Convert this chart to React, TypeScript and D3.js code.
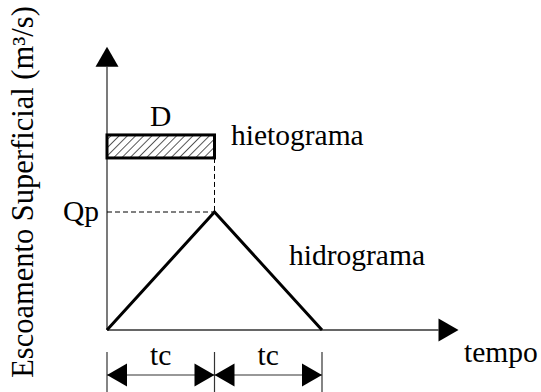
import React from "react";
import * as d3 from "d3";

const hydroTime = [0, 1, 2];
const hydroFlow = [0, 1, 0];
const rainInterval = [0, 1];
const rainLevels = [1.458, 1.653];
const dimTicks = [0, 1, 2];
const dimLabels = ["tc", "tc"];
const axisMax = { t: 3.27, q: 2.4 };

const W = 541, H = 392;
const FONT = "Liberation Serif";
const FS = 29.5;

export default function App() {
  const x = d3.scaleLinear().domain([0, 1]).range([107, 214.5]);
  const y = d3.scaleLinear().domain([0, 1]).range([330, 212]);
  const line = d3.line<number>().x((_, i) => x(hydroTime[i])).y((d) => y(d));
  const x0 = x(0), y0 = y(0);
  const peakX = x(hydroTime[1]), peakY = y(hydroFlow[1]);
  const xEnd = x(axisMax.t), yEnd = y(axisMax.q);
  const rx0 = x(rainInterval[0]), rx1 = x(rainInterval[1]);
  const ry0 = y(rainLevels[1]), ry1 = y(rainLevels[0]);
  const dimY = 375;
  const ah = 20, aw = 11.5;
  const ts = { fontFamily: FONT, fontSize: FS, fill: "#000" } as const;

  return (
    <svg width={W} height={H} style={{ position: "absolute", left: 0, top: 0, background: "#fff" }}>
      <defs>
        <pattern id="hatch" patternUnits="userSpaceOnUse" width={5.8} height={5.8} patternTransform="rotate(45)">
          <line x1={0} y1={-1} x2={0} y2={7} stroke="#000" strokeWidth={1.3} />
        </pattern>
      </defs>
      <rect width={W} height={H} fill="#fff" />
      {/* axes */}
      <line x1={x0} y1={y0} x2={x0} y2={yEnd + ah} stroke="#333" strokeWidth={1.3} />
      <path d={`M${x0},${yEnd} L${x0 - aw},${yEnd + ah} L${x0 + aw},${yEnd + ah} Z`} fill="#000" />
      <line x1={x0} y1={y0} x2={xEnd - ah} y2={y0} stroke="#333" strokeWidth={1.3} />
      <path d={`M${xEnd},${y0} L${xEnd - ah},${y0 - aw} L${xEnd - ah},${y0 + aw} Z`} fill="#000" />
      {/* dashed guides */}
      <line x1={x0} y1={peakY} x2={peakX} y2={peakY} stroke="#000" strokeWidth={1} strokeDasharray="5,3" />
      <line x1={peakX} y1={ry1} x2={peakX} y2={peakY} stroke="#000" strokeWidth={1} strokeDasharray="5,3" />
      {/* hyetograph */}
      <rect x={rx0} y={ry0} width={rx1 - rx0} height={ry1 - ry0} fill="url(#hatch)" stroke="#000" strokeWidth={3} />
      {/* hydrograph */}
      <path d={line(hydroFlow) || ""} fill="none" stroke="#000" strokeWidth={3} strokeLinejoin="miter" />
      {/* dimension lines */}
      {dimTicks.map((t, i) => (
        <line key={i} x1={x(t)} y1={352} x2={x(t)} y2={H} stroke="#333" strokeWidth={1.2} />
      ))}
      {dimLabels.map((lab, i) => {
        const a = x(dimTicks[i]), b = x(dimTicks[i + 1]);
        return (
          <g key={i}>
            <line x1={a} y1={dimY} x2={b} y2={dimY} stroke="#333" strokeWidth={1.2} />
            <path d={`M${a},${dimY} L${a + ah},${dimY - aw} L${a + ah},${dimY + aw} Z`} fill="#000" />
            <path d={`M${b},${dimY} L${b - ah},${dimY - aw} L${b - ah},${dimY + aw} Z`} fill="#000" />
            <text x={(a + b) / 2} y={365} textAnchor="middle" style={ts}>{lab}</text>
          </g>
        );
      })}
      {/* labels */}
      <text x={(rx0 + rx1) / 2} y={126} textAnchor="middle" style={ts}>D</text>
      <text x={231} y={145} style={ts}>hietograma</text>
      <text x={289} y={265} style={ts}>hidrograma</text>
      <text x={99} y={221} textAnchor="end" style={ts}>Qp</text>
      <text x={464} y={362} style={ts}>tempo</text>
      <text transform={`translate(33,${192}) rotate(-90)`} textAnchor="middle" style={{ ...ts, fontSize: 30.5 }}>
        Escoamento Superficial (m³/s)
      </text>
    </svg>
  );
}
